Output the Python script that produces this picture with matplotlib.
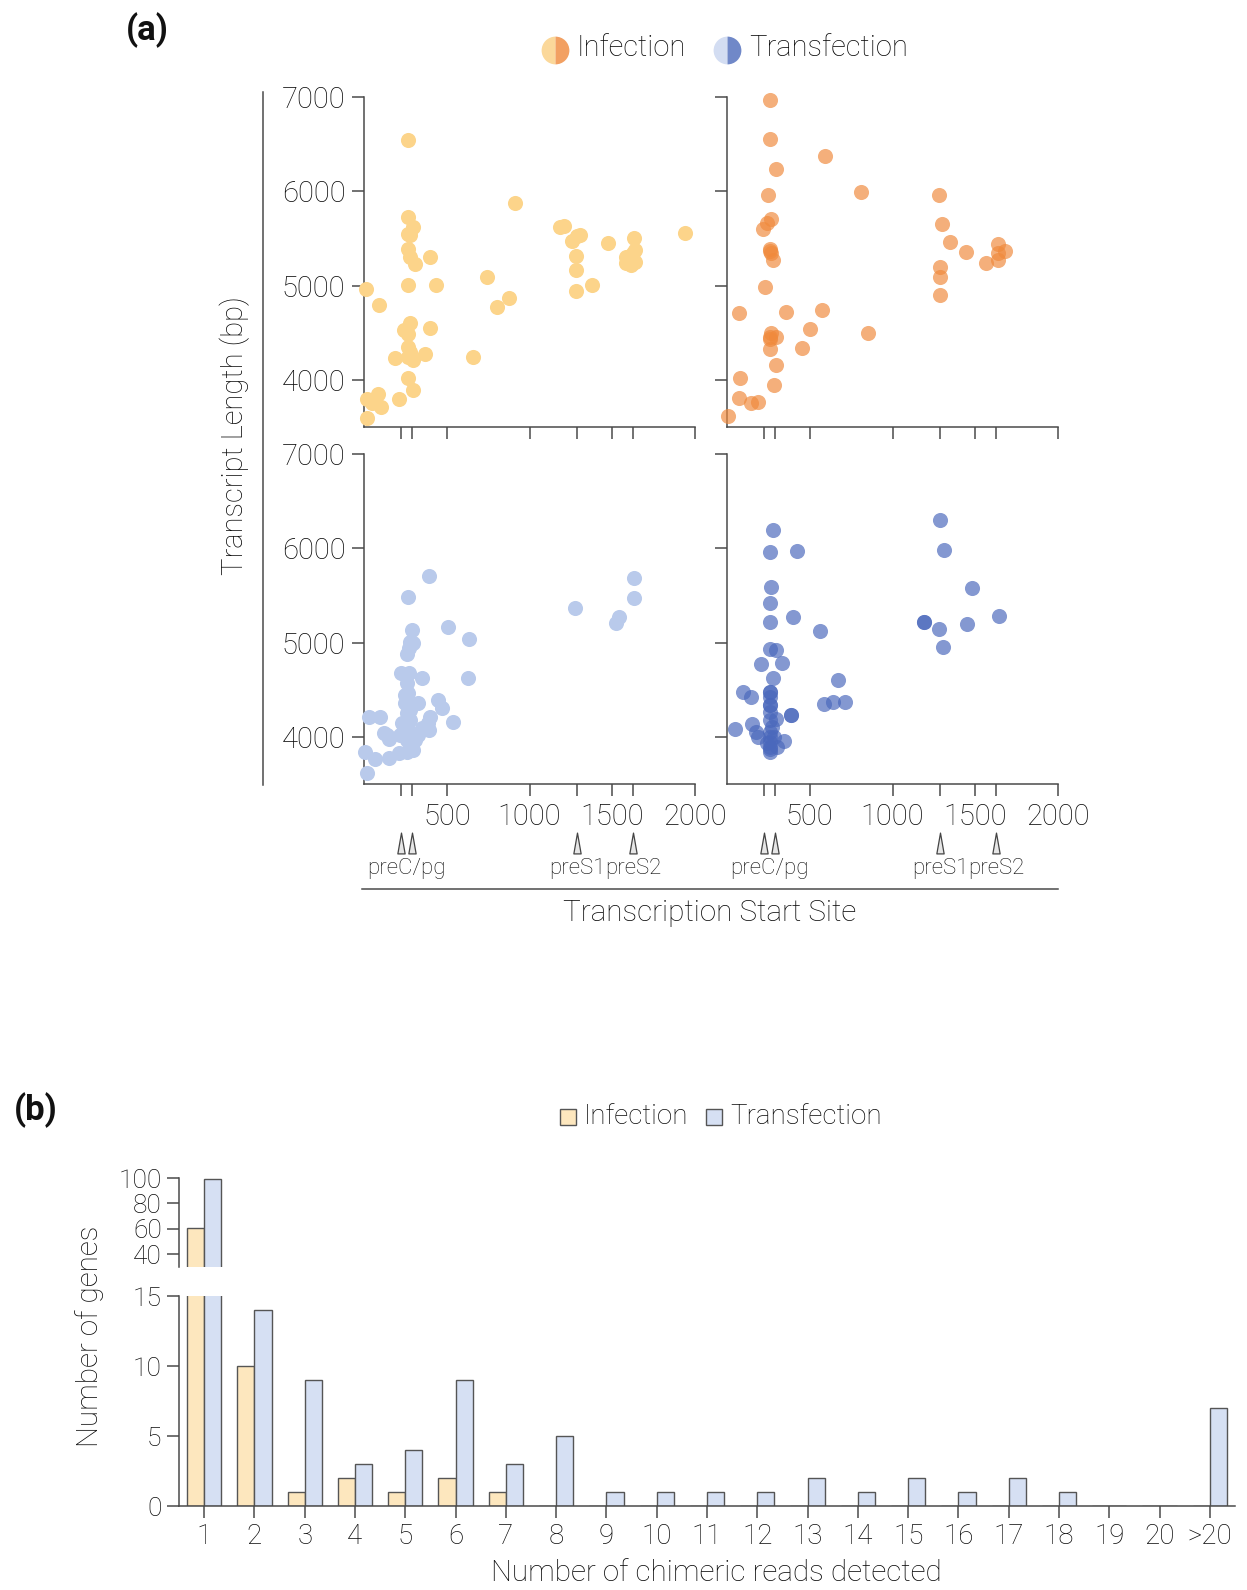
import matplotlib
matplotlib.use('Agg')
import matplotlib.pyplot as plt
from matplotlib.path import Path
import matplotlib.transforms as mtransforms

plt.rcParams['font.family'] = ['Roboto', 'DejaVu Sans']
plt.rcParams['font.weight'] = 'light'

# ---------------- data: panel (a) ----------------
tss_inf_hepg2 = [263, 913, 263, 295, 263, 275, 263, 279, 310, 400, 263, 434, 12, 90, 742, 802, 874,
                 1184, 1208, 1258, 1288, 1304, 1280, 1280, 1280, 1379, 1475, 1630, 1586, 1626, 1636,
                 1586, 1616, 1606, 1636, 1942, 275, 239, 263, 400, 265, 275, 299, 263, 185, 366, 661,
                 263, 299, 209, 18, 82, 58, 103, 18, 48]
len_inf_hepg2 = [6541, 5881, 5722, 5616, 5546, 5535, 5383, 5305, 5228, 5298, 5006, 5006, 4960, 4790,
                 5094, 4773, 4864, 5623, 5634, 5475, 5524, 5538, 5316, 5164, 4938, 5009, 5454, 5507,
                 5305, 5341, 5253, 5235, 5217, 5270, 5376, 5553, 4600, 4529, 4487, 4547, 4353, 4300,
                 4211, 4240, 4229, 4271, 4240, 4017, 3894, 3798, 3795, 3848, 3760, 3717, 3600, 3750]

tss_inf_huh7 = [262, 262, 296, 593, 248, 810, 264, 240, 216, 260, 266, 280, 230, 71, 357, 573, 264,
                296, 260, 262, 502, 456, 849, 296, 79, 284, 75, 143, 190, 8, 1280, 1298, 1349, 1446,
                1284, 1284, 1284, 1566, 1637, 1637, 1681, 1637, 262, 262]
len_inf_huh7 = [6972, 6559, 6241, 6372, 5962, 5994, 5708, 5659, 5595, 5383, 5348, 5270, 4988, 4706,
                4720, 4741, 4501, 4458, 4430, 4331, 4543, 4342, 4501, 4155, 4017, 3943, 3805, 3759,
                3770, 3618, 5962, 5655, 5461, 5359, 5200, 5094, 4896, 5242, 5443, 5348, 5366, 5267,
                5370, 4450]

tss_tra_hepg2 = [394, 263, 291, 505, 635, 279, 295, 269, 259, 223, 269, 352, 631, 324, 446, 470, 537,
                 400, 384, 390, 28, 94, 119, 149, 139, 8, 64, 149, 209, 18, 259, 265, 269, 259, 275,
                 259, 279, 259, 289, 259, 309, 329, 350, 229, 215, 239, 299, 249, 279, 249, 1276,
                 1632, 1632, 1542, 1522]
len_tra_hepg2 = [5710, 5487, 5134, 5162, 5035, 5010, 4993, 4940, 4880, 4675, 4675, 4622, 4622, 4364,
                 4392, 4304, 4162, 4215, 4145, 4074, 4208, 4215, 4038, 3975, 4021, 3837, 3763, 3773,
                 3833, 3614, 4569, 4463, 4357, 4251, 4180, 4109, 4038, 3968, 3897, 3844, 3968, 4021,
                 4092, 4145, 4021, 4074, 3862, 4445, 4286, 4357, 5371, 5689, 5470, 5275, 5212]

tss_tra_huh7 = [276, 260, 421, 264, 260, 260, 401, 560, 260, 296, 208, 335, 276, 99, 143, 669, 589,
                639, 710, 385, 385, 46, 153, 173, 190, 345, 304, 260, 260, 260, 260, 260, 270, 260,
                260, 260, 260, 260, 296, 284, 240, 260, 260, 260, 1288, 1314, 1482, 1645, 1191, 1191,
                1282, 1453, 1304]
len_tra_huh7 = [6194, 5957, 5968, 5586, 5424, 5222, 5268, 5123, 4929, 4922, 4774, 4788, 4622, 4480,
                4427, 4604, 4350, 4374, 4374, 4233, 4233, 4085, 4138, 4056, 4003, 3961, 3897, 4480,
                4427, 4339, 4268, 4180, 4109, 4056, 4003, 3950, 3897, 3844, 4187, 4003, 3932, 4480,
                4339, 3870, 6300, 5982, 5583, 5283, 5222, 5222, 5141, 5194, 4957]

promoter_tss = [225, 290, 1290, 1625]
promoter_labels = [('preC/pg', 257), ('preS1', 1290), ('preS2', 1625)]
tss_ticks = [500, 1000, 1500, 2000]
len_ticks = [4000, 5000, 6000, 7000]

# ---------------- data: panel (b) ----------------
read_categories = ['1', '2', '3', '4', '5', '6', '7', '8', '9', '10', '11', '12', '13', '14', '15',
                   '16', '17', '18', '19', '20', '>20']
genes_infection = [61, 10, 1, 2, 1, 2, 1, 0, 0, 0, 0, 0, 0, 0, 0, 0, 0, 0, 0, 0, 0]
genes_transfection = [99, 14, 9, 3, 4, 9, 3, 5, 1, 1, 1, 1, 2, 1, 2, 1, 2, 1, 0, 0, 7]

# ---------------- figure ----------------
W, H, DPI = 1247, 1590, 100
fig = plt.figure(figsize=(W / DPI, H / DPI), dpi=DPI)
GRAY = '#4a4a4a'
TXT = '#0a0a0a'
LW = 1.1
TICKLEN = 8.5


def rect(x0, y0, x1, y1):
    return [x0 / W, 1 - y1 / H, (x1 - x0) / W, (y1 - y0) / H]


def style_axes(ax):
    for s in ['top', 'right']:
        ax.spines[s].set_visible(False)
    for s in ['left', 'bottom']:
        ax.spines[s].set_color(GRAY)
        ax.spines[s].set_linewidth(LW)
    ax.tick_params(direction='out', length=TICKLEN, width=LW, color=GRAY, labelcolor=TXT)


tri_path = Path([(-0.35, -1), (0.35, -1), (0, 1), (-0.35, -1)],
                [Path.MOVETO, Path.LINETO, Path.LINETO, Path.CLOSEPOLY])

panels = [
    (rect(364, 97, 695, 427), tss_inf_hepg2, len_inf_hepg2, '#FCD48A', 1.0, True, False),
    (rect(727, 97, 1058, 427), tss_inf_huh7, len_inf_huh7, '#F08A3C', 0.68, False, False),
    (rect(364, 454, 695, 784), tss_tra_hepg2, len_tra_hepg2, '#B9CAEB', 1.0, True, True),
    (rect(727, 454, 1058, 784), tss_tra_huh7, len_tra_huh7, '#4A68BC', 0.68, False, True),
]

for box, xs, ys, col, alpha, ylab, xlab in panels:
    ax = fig.add_axes(box)
    ax.scatter(xs, ys, s=118, color=col, alpha=alpha, linewidths=0, clip_on=False, zorder=3)
    ax.set_xlim(0, 2000)
    ax.set_ylim(3500, 7000)
    style_axes(ax)
    ax.set_xticks(sorted(promoter_tss + tss_ticks))
    if xlab:
        ax.set_xticklabels([str(t) if t in tss_ticks else '' for t in sorted(promoter_tss + tss_ticks)])
    else:
        ax.set_xticklabels([])
    ax.set_yticks(len_ticks)
    if ylab:
        ax.set_yticklabels([str(t) for t in len_ticks])
    else:
        ax.set_yticklabels([])
    ax.tick_params(labelsize=21, pad=5)
    if xlab:
        trans = mtransforms.blended_transform_factory(ax.transData, ax.transAxes)
        ax.plot(promoter_tss, [-0.178] * len(promoter_tss), linestyle='none', marker=tri_path,
                markersize=15, markerfacecolor='#e6e6e6', markeredgecolor='#444444',
                markeredgewidth=0.9, transform=trans, clip_on=False)
        for lab, xpos in promoter_labels:
            ax.text(xpos, -0.255, lab, transform=trans, ha='center', va='center',
                    fontsize=16, color=TXT)

# overlay for decorative lines & texts (pixel coordinates)
ov = fig.add_axes([0, 0, 1, 1], zorder=-1)
ov.set_xlim(0, W)
ov.set_ylim(H, 0)
ov.axis('off')

ov.plot([263, 263], [92, 785], color=GRAY, lw=LW)
ov.plot([362, 1058], [889, 889], color=GRAY, lw=LW)
ov.text(235, 436, 'Transcript Length (bp)', rotation=90, ha='center', va='center', fontsize=21,
        color=TXT)
ov.text(710, 913, 'Transcription Start Site', ha='center', va='center', fontsize=21.3, color=TXT)
ov.text(147, 30, '(a)', ha='center', va='center', fontsize=25, fontweight='bold', color='#111111')
ov.text(36, 1110, '(b)', ha='center', va='center', fontsize=25, fontweight='bold', color='#111111')

# legend (a): half-filled circles
for cx, light, dark, lab in [(555, '#FBD89A', '#F2A062', 'Infection'),
                             (727, '#D3DDF2', '#7088C8', 'Transfection')]:
    ov.plot([cx], [50], marker='o', markersize=20, fillstyle='left', markerfacecolor=light,
            markerfacecoloralt=dark, markeredgewidth=0, linestyle='none')
    ov.text(cx + 22, 48, lab, ha='left', va='center', fontsize=21, color=TXT)

# ---------------- panel (b) ----------------
INF_C = '#FDE7BE'
TRA_C = '#D6E0F3'
BAR_EDGE = '#555555'
pos = list(range(1, len(read_categories) + 1))
bw = 0.34

ax_lo = fig.add_axes(rect(179, 1296, 1235, 1506))
ax_hi = fig.add_axes(rect(179, 1178, 1235, 1267))
for ax in (ax_lo, ax_hi):
    ax.bar([p - bw / 2 for p in pos], genes_infection, width=bw, color=INF_C, edgecolor=BAR_EDGE,
           linewidth=1.0)
    ax.bar([p + bw / 2 for p in pos], genes_transfection, width=bw, color=TRA_C,
           edgecolor=BAR_EDGE, linewidth=1.0)
    ax.set_xlim(0.5, len(read_categories) + 0.5)
    style_axes(ax)
    ax.tick_params(labelsize=19, pad=4)

ax_lo.set_ylim(0, 15)
ax_lo.set_yticks([0, 5, 10, 15])
ax_lo.set_xticks(pos)
ax_lo.set_xticklabels(read_categories)
ax_lo.tick_params(axis='x', labelsize=20)

ax_hi.set_ylim(30, 100)
ax_hi.set_yticks([40, 60, 80, 100])
ax_hi.spines['bottom'].set_visible(False)
ax_hi.set_xticks([])

ov.text(90, 1336, 'Number of genes', rotation=90, ha='center', va='center', fontsize=21.3,
        color=TXT)
ov.text(716, 1573, 'Number of chimeric reads detected', ha='center', va='center', fontsize=21.3,
        color=TXT)

for cx, col, lab in [(568, INF_C, 'Infection'), (714, TRA_C, 'Transfection')]:
    ov.plot([cx], [1117], marker='s', markersize=11, markerfacecolor=col,
            markeredgecolor=BAR_EDGE, markeredgewidth=1.0, linestyle='none')
    ov.text(cx + 16, 1116, lab, ha='left', va='center', fontsize=20, color=TXT)

fig.savefig('out.png', dpi=DPI)
